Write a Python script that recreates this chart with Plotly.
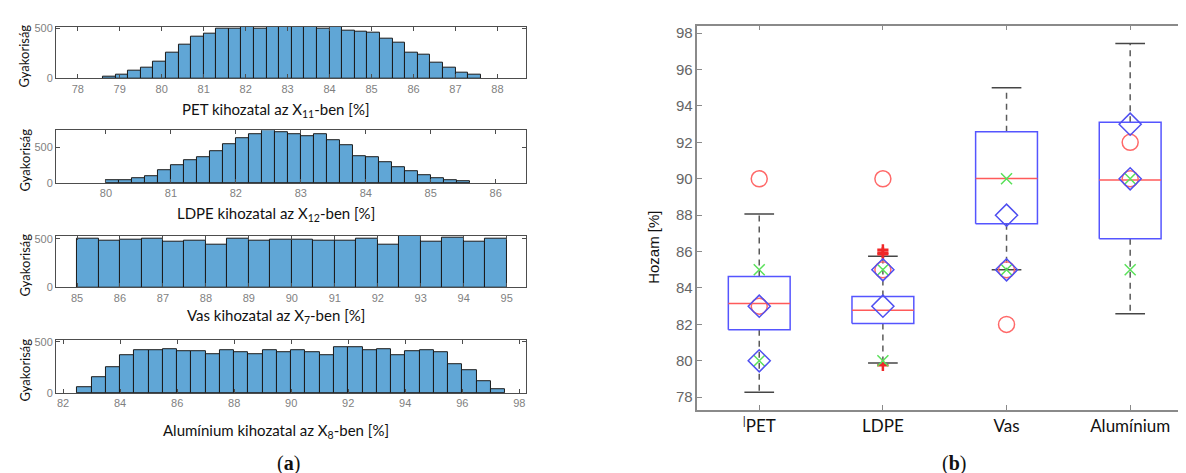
import numpy as np
import plotly.graph_objects as go

# ---------------- data: histograms (bin start, bin width, counts) ----------------
pet_bin_start, pet_bin_width = 78.6, 0.3
pet_counts = [13, 42, 77, 103, 171, 252, 339, 419, 442, 500, 500, 540, 500, 520, 520,
              540, 540, 500, 520, 477, 468, 452, 397, 355, 252, 232, 161, 103, 58, 39]

ldpe_bin_start, ldpe_bin_width = 80.0, 0.2
ldpe_counts = [41, 41, 68, 100, 182, 250, 323, 355, 450, 550, 627, 677, 736, 705,
               677, 659, 686, 595, 536, 377, 355, 295, 227, 164, 114, 68, 36, 23]

vas_bin_start, vas_bin_width = 85.0, 0.5
vas_counts = [507, 483, 493, 507, 473, 483, 446, 507, 483, 493,
              493, 483, 483, 507, 446, 545, 473, 517, 473, 507]

alu_bin_start, alu_bin_width = 82.5, 0.5
alu_counts = [61, 150, 252, 373, 420, 420, 430, 404, 404, 382, 417, 395, 382, 417, 395,
              417, 395, 373, 443, 443, 417, 430, 373, 404, 417, 395, 283, 220, 111, 38]

hist_titles = ["PET kihozatal az X<sub>11</sub>-ben [%]",
               "LDPE kihozatal az X<sub>12</sub>-ben [%]",
               "Vas kihozatal az X<sub>7</sub>-ben [%]",
               "Alumínium kihozatal az X<sub>8</sub>-ben [%]"]
hist_ylabel = "Gyakoriság"

# ---------------- data: box plot ----------------
box_categories = ["<sup>|</sup>PET", "LDPE", "Vas", "Alumínium"]
box_q1 = [81.70, 82.05, 87.53, 86.71]
box_median = [83.15, 82.78, 90.02, 89.93]
box_q3 = [84.63, 83.53, 92.58, 93.10]
box_lower = [78.27, 79.88, 85.00, 82.59]
box_upper = [88.07, 85.74, 95.00, 97.43]

outlier_cat = [1, 1, 1, 1]          # index into box_categories
outlier_val = [86.1, 85.95, 85.85, 79.75]

circle_cat = [0, 0, 1, 1, 2, 2, 3, 3]
circle_val = [90, 83, 90, 85, 85, 82, 92, 90]
xmark_cat = [0, 0, 1, 1, 2, 2, 3, 3]
xmark_val = [85, 80, 85, 80, 90, 85, 90, 85]
diamond_cat = [0, 0, 1, 1, 2, 2, 3, 3]
diamond_val = [83, 80, 85, 83, 88, 85, 93, 90]

box_ylabel = "Hozam [%]"
panel_labels = ["(<b>a</b>)", "(<b>b</b>)"]

# ---------------- figure ----------------
W, H = 1186, 473
fig = go.Figure()

bar_color = "rgb(96,166,214)"
hist_specs = [
    (pet_bin_start, pet_bin_width, pet_counts, [77.48, 88.67], [0, 515], list(range(78, 89))),
    (ldpe_bin_start, ldpe_bin_width, ldpe_counts, [79.23, 86.46], [0, 740], list(range(80, 87))),
    (vas_bin_start, vas_bin_width, vas_counts, [84.51, 95.44], [0, 534], list(range(85, 96))),
    (alu_bin_start, alu_bin_width, alu_counts, [81.75, 98.22], [0, 516], list(range(82, 99, 2))),
]
# pixel rows (top, bottom) of each histogram panel
hist_rows = [(14, 67), (120, 174), (228, 281), (335, 389)]
hist_title_y = [99, 206, 310, 428]
xdom_hist = [48 / W, 518 / W]

layout_axes = {}
for i, (start, width, counts, xr, yr, xt) in enumerate(hist_specs):
    n = i + 1
    edges = start + width * np.arange(len(counts))
    centers = edges + width / 2
    xa = "x" if n == 1 else f"x{n}"
    ya = "y" if n == 1 else f"y{n}"
    fig.add_trace(go.Bar(
        x=centers, y=counts, width=width,
        marker=dict(color=bar_color, line=dict(color="#1a1a1a", width=1)),
        xaxis=xa, yaxis=ya, showlegend=False, hoverinfo="skip"))
    top, bot = hist_rows[i]
    axcommon = dict(showline=True, linecolor="#4d4d4d", linewidth=1, mirror="ticks",
                    ticks="inside", ticklen=4, tickcolor="#4d4d4d", showgrid=False,
                    zeroline=False, tickfont=dict(family="Liberation Sans", size=11, color="#7f7f7f"))
    layout_axes["xaxis" if n == 1 else f"xaxis{n}"] = dict(
        domain=xdom_hist, range=xr, tickvals=xt, anchor=ya, **axcommon)
    layout_axes["yaxis" if n == 1 else f"yaxis{n}"] = dict(
        domain=[1 - bot / H, 1 - top / H], range=yr, tickvals=[0, 500], anchor=xa, **axcommon)

# ---------------- box plot (axis 5) ----------------
pos = [i + 1 for i in range(len(box_categories))]
bw = 0.25   # half box width
cw = 0.12   # half cap width

wx, wy = [], []
for p, q1, q3, lo, up in zip(pos, box_q1, box_q3, box_lower, box_upper):
    wx += [p, p, None, p, p, None]
    wy += [q3, up, None, q1, lo, None]
fig.add_trace(go.Scatter(x=wx, y=wy, mode="lines", xaxis="x5", yaxis="y5",
                         line=dict(color="rgb(90,90,90)", width=1.5, dash="6px,5px"),
                         showlegend=False, hoverinfo="skip"))
cx, cy = [], []
for p, lo, up in zip(pos, box_lower, box_upper):
    cx += [p - cw, p + cw, None, p - cw, p + cw, None]
    cy += [up, up, None, lo, lo, None]
fig.add_trace(go.Scatter(x=cx, y=cy, mode="lines", xaxis="x5", yaxis="y5",
                         line=dict(color="rgb(70,70,70)", width=1.5),
                         showlegend=False, hoverinfo="skip"))
bx, by = [], []
for p, q1, q3 in zip(pos, box_q1, box_q3):
    bx += [p - bw, p + bw, p + bw, p - bw, p - bw, None]
    by += [q1, q1, q3, q3, q1, None]
fig.add_trace(go.Scatter(x=bx, y=by, mode="lines", xaxis="x5", yaxis="y5",
                         line=dict(color="rgb(85,85,255)", width=1.5),
                         showlegend=False, hoverinfo="skip"))
mx, my = [], []
for p, m in zip(pos, box_median):
    mx += [p - bw, p + bw, None]
    my += [m, m, None]
fig.add_trace(go.Scatter(x=mx, y=my, mode="lines", xaxis="x5", yaxis="y5",
                         line=dict(color="rgb(255,90,90)", width=1.5),
                         showlegend=False, hoverinfo="skip"))

# markers
fig.add_trace(go.Scatter(x=[pos[c] for c in outlier_cat], y=outlier_val, mode="markers",
                         xaxis="x5", yaxis="y5",
                         marker=dict(symbol="cross-thin-open", size=8, color="rgb(240,40,40)",
                                     line=dict(color="rgb(240,40,40)", width=2.5)),
                         showlegend=False, hoverinfo="skip"))
fig.add_trace(go.Scatter(x=[pos[c] for c in circle_cat], y=circle_val, mode="markers",
                         xaxis="x5", yaxis="y5",
                         marker=dict(symbol="circle-open", size=16, color="rgb(255,105,105)",
                                     line=dict(color="rgb(255,105,105)", width=1.5)),
                         showlegend=False, hoverinfo="skip"))
fig.add_trace(go.Scatter(x=[pos[c] for c in xmark_cat], y=xmark_val, mode="markers",
                         xaxis="x5", yaxis="y5",
                         marker=dict(symbol="x-thin-open", size=11, color="rgb(90,225,90)",
                                     line=dict(color="rgb(90,225,90)", width=1.5)),
                         showlegend=False, hoverinfo="skip"))
fig.add_trace(go.Scatter(x=[pos[c] for c in diamond_cat], y=diamond_val, mode="markers",
                         xaxis="x5", yaxis="y5",
                         marker=dict(symbol="diamond-open", size=17, color="rgb(80,80,240)",
                                     line=dict(color="rgb(80,80,240)", width=1.5)),
                         showlegend=False, hoverinfo="skip"))

layout_axes["xaxis5"] = dict(
    domain=[690 / W, 1185 / W], range=[0.5, 4.5], anchor="y5",
    tickvals=pos, ticktext=box_categories, showline=True, linecolor="#8a8a8a", linewidth=1.5,
    mirror="ticks", ticks="inside", ticklen=5, tickcolor="#8a8a8a", showgrid=False, zeroline=False,
    tickfont=dict(family="Lato", size=17, color="#111111"))
layout_axes["yaxis5"] = dict(
    domain=[1 - 406 / H, 1 - 13 / H], range=[77.32, 98.41], anchor="x5",
    tickvals=list(range(78, 99, 2)), showline=True, linecolor="#8a8a8a", linewidth=1.5,
    mirror="ticks", ticks="inside", ticklen=5, tickcolor="#8a8a8a", showgrid=False, zeroline=False,
    tickfont=dict(family="Liberation Sans", size=15, color="#666666"))

annotations = []
for i, t in enumerate(hist_titles):
    annotations.append(dict(text=t, x=268 / W, y=1 - hist_title_y[i] / H, xref="paper", yref="paper",
                            xanchor="center", yanchor="middle", showarrow=False,
                            font=dict(family="Lato", size=15, color="#111111")))
    top, bot = hist_rows[i]
    annotations.append(dict(text=hist_ylabel, x=17 / W, y=1 - ((top + bot) / 2 + 3) / H,
                            xref="paper", yref="paper", textangle=-90,
                            xanchor="center", yanchor="middle", showarrow=False,
                            font=dict(family="Lato", size=13, color="#111111")))
annotations.append(dict(text=box_ylabel, x=646 / W, y=1 - 240 / H, xref="paper", yref="paper",
                        textangle=-90, xanchor="center", yanchor="middle", showarrow=False,
                        font=dict(family="Liberation Sans", size=15, color="#111111")))
annotations.append(dict(text=panel_labels[0], x=281 / W, y=1 - 461 / H, xref="paper", yref="paper",
                        xanchor="center", yanchor="middle", showarrow=False,
                        font=dict(family="Liberation Serif", size=20, color="#111111")))
annotations.append(dict(text=panel_labels[1], x=947 / W, y=1 - 461 / H, xref="paper", yref="paper",
                        xanchor="center", yanchor="middle", showarrow=False,
                        font=dict(family="Liberation Serif", size=20, color="#111111")))

fig.update_layout(
    width=W, height=H, margin=dict(l=0, r=0, t=0, b=0),
    paper_bgcolor="white", plot_bgcolor="white",
    bargap=0, showlegend=False, annotations=annotations, **layout_axes)

fig.write_html("out.html")
